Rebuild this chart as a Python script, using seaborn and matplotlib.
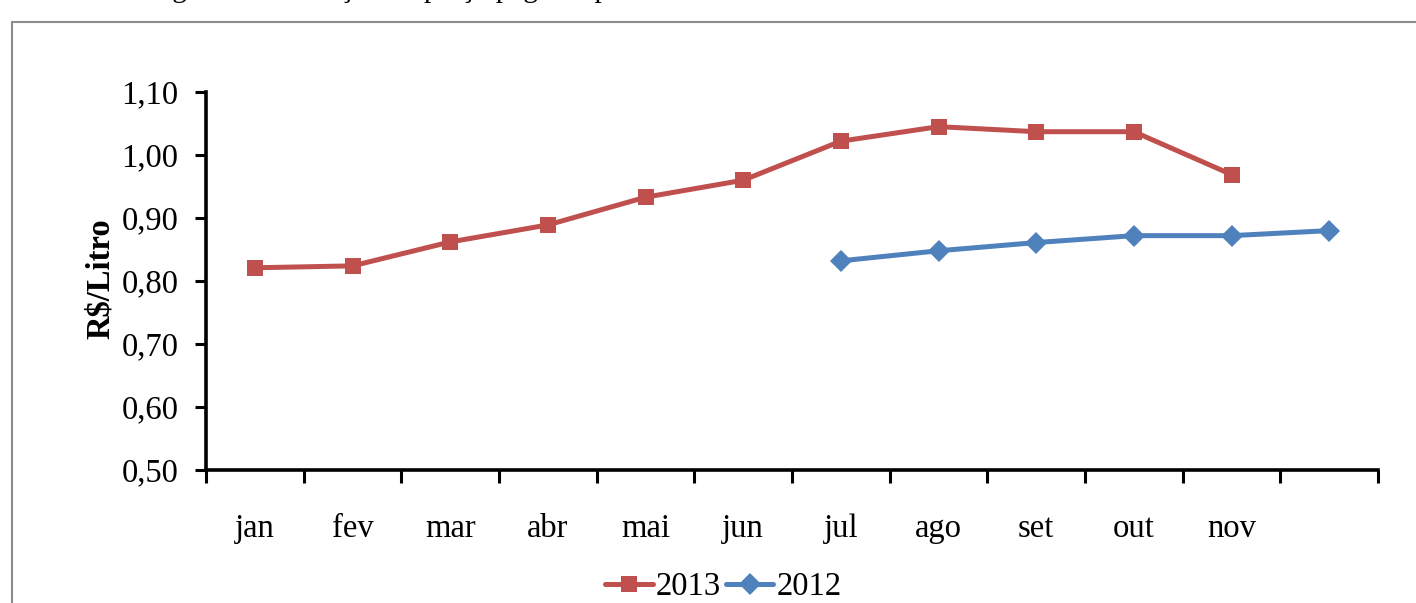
import numpy as np
import pandas as pd
import matplotlib
matplotlib.use('Agg')
import matplotlib.pyplot as plt
import seaborn as sns
from matplotlib.lines import Line2D

# categories (last month has no label in the original)
meses = ['jan', 'fev', 'mar', 'abr', 'mai', 'jun', 'jul', 'ago', 'set', 'out', 'nov', '']

# R$/Litro
precos_2013 = [0.821, 0.824, 0.862, 0.889, 0.933, 0.960, 1.022, 1.045, 1.037, 1.037, 0.969, np.nan]
precos_2012 = [np.nan, np.nan, np.nan, np.nan, np.nan, np.nan, 0.832, 0.848, 0.861, 0.872, 0.872, 0.880]

y_ticks = [0.50, 0.60, 0.70, 0.80, 0.90, 1.00, 1.10]

df = pd.DataFrame({'mes': meses, '2013': precos_2013, '2012': precos_2012})
df['pos'] = np.arange(len(df))

sns.set_style('white')
plt.rcParams['font.family'] = ['Liberation Serif', 'DejaVu Serif']
plt.rcParams['text.color'] = 'black'
plt.rcParams['xtick.color'] = 'black'
plt.rcParams['ytick.color'] = 'black'
plt.rcParams['axes.labelcolor'] = 'black'

fig = plt.figure(figsize=(14.16, 6.03), dpi=100)
ax = fig.add_axes([0.1455, 0.2206, 0.8277, 0.6268])

vermelho = '#C0504D'
azul = '#4F81BD'

sns.lineplot(data=df, x='pos', y='2013', ax=ax, color=vermelho, lw=3.6,
             marker='s', markersize=12, markeredgewidth=0, label='2013')
sns.lineplot(data=df, x='pos', y='2012', ax=ax, color=azul, lw=3.6,
             marker='D', markersize=11, markeredgewidth=0, label='2012')

ax.set_xlim(-0.5, len(meses) - 0.5)
ax.set_ylim(0.50, 1.10)
ax.set_yticks(y_ticks)
ax.set_yticklabels([f'{v:.2f}'.replace('.', ',') for v in y_ticks], fontsize=23.5)

# ticks at category boundaries, labels centred in categories
ax.set_xticks(np.arange(len(meses) + 1) - 0.5)
ax.set_xticklabels([])
ax.set_xticks(df['pos'], minor=True)
ax.set_xticklabels(meses, minor=True, fontsize=23.5)
ax.tick_params(axis='x', which='major', bottom=True, direction='out', length=9, width=2.2)
ax.tick_params(axis='x', which='minor', bottom=True, length=0, pad=31)
ax.tick_params(axis='y', left=True, direction='out', length=8, width=2.2, pad=12)

for s in ['top', 'right']:
    ax.spines[s].set_visible(False)
for s in ['left', 'bottom']:
    ax.spines[s].set_color('black')
    ax.spines[s].set_linewidth(2.6)

ax.set_xlabel('')
ax.set_ylabel('R$/Litro', fontsize=23.5, fontweight='bold')
ax.yaxis.set_label_coords(-0.077, 0.505)
ax.get_legend().remove()

handles = [Line2D([], [], color=vermelho, lw=3.6, marker='s', markersize=12, markeredgewidth=0),
           Line2D([], [], color=azul, lw=3.6, marker='D', markersize=11, markeredgewidth=0)]
fig.legend(handles, ['2013', '2012'], loc='center', bbox_to_anchor=(0.511, 0.027),
           ncol=2, frameon=False, fontsize=23.5, handlelength=1.45, handletextpad=0.1,
           columnspacing=0.15, borderpad=0)

# outer chart border (cut off on right and bottom in the original)
fig.add_artist(Line2D([12 / 1416, 12 / 1416], [0, 1 - 22 / 603], transform=fig.transFigure,
                      color='#8c8c8c', lw=1.5))
fig.add_artist(Line2D([12 / 1416, 1], [1 - 22 / 603, 1 - 22 / 603], transform=fig.transFigure,
                      color='#8c8c8c', lw=1.5))

# caption above the chart, mostly cropped out as in the original
fig.text(0.1045, 1.005, 'Figura 1 - Evolução do preço pago ao produtor', fontsize=21,
         ha='left', va='baseline')

fig.savefig('out.png', dpi=100)
